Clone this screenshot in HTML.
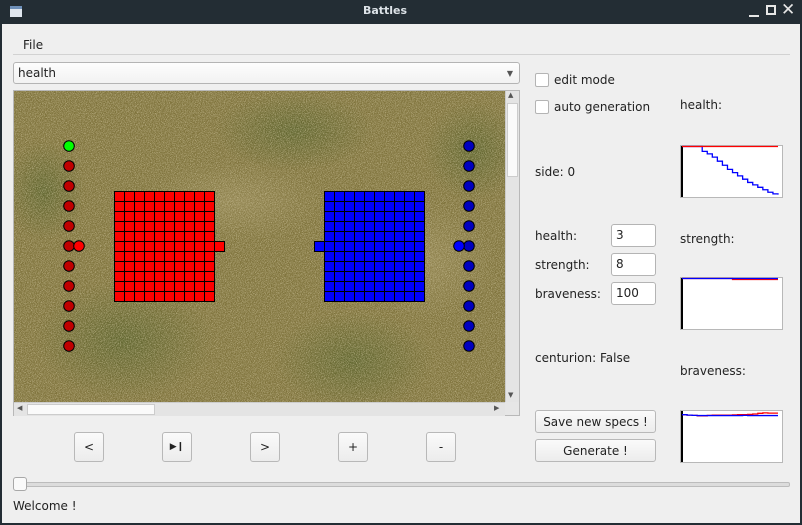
<!DOCTYPE html>
<html><head><meta charset="utf-8">
<style>
*{box-sizing:border-box;margin:0;padding:0}
body{width:802px;height:525px;overflow:hidden;background:#232d34;font-family:"DejaVu Sans","Liberation Sans",sans-serif;font-size:12px;color:#222;position:relative}
.abs{position:absolute}
#win{left:2px;top:24px;width:798px;height:499px;background:#efefef}
.btn{position:absolute;border:1px solid #b8b8b8;border-radius:3px;background:linear-gradient(#fafafa,#ececec);text-align:center;color:#222}
.inp{position:absolute;border:1px solid #b4b4b4;border-radius:3px;background:#fff;padding-left:4px;line-height:21px}
.cb{position:absolute;width:14px;height:14px;border:1px solid #b4b4b4;border-radius:2px;background:#fff}
.lbl{position:absolute;white-space:nowrap}
</style></head><body>
<div class="abs" style="left:0;top:0;width:802px;height:24px;background:#232d34">
 <div class="abs" style="left:10px;top:6px;width:12px;height:11px;background:#dfe6ee;border-top:3px solid #6d8fb8"></div>
 <div class="abs" style="left:0;width:770px;top:4px;text-align:center;color:#dde3e8;font-weight:bold;font-size:11px">Battles</div>
 <div class="abs" style="left:749px;top:15px;width:10px;height:2px;background:#e6e6e6"></div>
 <div class="abs" style="left:766px;top:5px;width:10px;height:10px;border:2px solid #e6e6e6"></div>
 <div class="abs" style="left:781px;top:0px;color:#e6e6e6;font-size:17px;font-weight:bold">✕</div>
</div>
<div id="win" class="abs"></div>
<div class="lbl" style="left:23px;top:38px">File</div>
<div class="abs" style="left:13px;top:54px;width:777px;height:1px;background:#d2d2d2"></div>
<div class="inp" style="left:13px;top:62px;width:507px;height:22px;background:linear-gradient(#fdfdfd,#f2f2f2)">health<span style="position:absolute;right:6px;top:0;font-size:8px;color:#555">▼</span></div>

<div class="abs" style="left:13px;top:90px;width:507px;height:326px;border:1px solid #b8b8b8;background:#e6e6e6">
<svg id="field" width="491" height="311" style="position:absolute;left:0;top:0">
<defs>
<radialGradient id="g1"><stop offset="0" stop-color="#56612a" stop-opacity=".75"/><stop offset="1" stop-color="#56612a" stop-opacity="0"/></radialGradient>
<radialGradient id="g2"><stop offset="0" stop-color="#a89a6a" stop-opacity=".45"/><stop offset="1" stop-color="#a89a6a" stop-opacity="0"/></radialGradient>
<filter id="noise"><feTurbulence type="fractalNoise" baseFrequency="1.2" numOctaves="2" seed="3"/><feColorMatrix values="0 0 0 0 0.75  0 0 0 0 0.68  0 0 0 0 0.45  1.6 0 0 0 -0.65"/></filter>
</defs>
<rect width="491" height="311" fill="#7f733c"/>
<ellipse cx="110" cy="250" rx="90" ry="60" fill="url(#g1)"/>
<ellipse cx="340" cy="270" rx="80" ry="50" fill="url(#g1)"/>
<ellipse cx="280" cy="40" rx="80" ry="40" fill="url(#g1)"/>
<ellipse cx="460" cy="60" rx="50" ry="50" fill="url(#g1)"/>
<ellipse cx="30" cy="100" rx="40" ry="50" fill="url(#g1)"/>
<ellipse cx="220" cy="110" rx="90" ry="40" fill="url(#g2)"/>
<ellipse cx="410" cy="170" rx="70" ry="60" fill="url(#g2)"/>
<rect width="491" height="311" filter="url(#noise)"/>
<g id="units"></g>
</svg>
<div class="abs" style="left:491px;top:0;width:14px;height:311px;background:#e4e4e4;border-left:1px solid #ccc">
 <div class="abs" style="left:1px;top:12px;width:11px;height:74px;background:#fafafa;border:1px solid #ccc"></div>
 <div class="abs" style="left:2px;top:0;font-size:7px;color:#555">▲</div><div class="abs" style="left:2px;top:300px;font-size:7px;color:#555">▼</div>
</div>
<div class="abs" style="left:0;top:311px;width:491px;height:14px;background:#e4e4e4;border-top:1px solid #ccc">
 <div class="abs" style="left:13px;top:1px;width:128px;height:11px;background:#fafafa;border:1px solid #ccc"></div>
 <div class="abs" style="left:3px;top:1px;font-size:7px;color:#555">◀</div><div class="abs" style="left:480px;top:1px;font-size:7px;color:#555">▶</div>
</div>
</div>

<div class="btn" style="left:74px;top:432px;width:30px;height:30px;line-height:28px">&lt;</div>
<div class="btn" style="left:162px;top:432px;width:30px;height:30px;line-height:28px;font-size:9px;font-weight:bold">▶❙</div>
<div class="btn" style="left:250px;top:432px;width:30px;height:30px;line-height:28px">&gt;</div>
<div class="btn" style="left:338px;top:432px;width:30px;height:30px;line-height:28px">+</div>
<div class="btn" style="left:426px;top:432px;width:30px;height:30px;line-height:28px">-</div>

<div class="abs" style="left:13px;top:482px;width:777px;height:5px;border:1px solid #bcbcbc;border-radius:2px;background:#dcdcdc"></div>
<div class="abs" style="left:13px;top:477px;width:14px;height:14px;border:1px solid #a8a8a8;border-radius:3px;background:#fafafa"></div>
<div class="lbl" style="left:13px;top:499px">Welcome !</div>

<div class="cb" style="left:535px;top:73px"></div>
<div class="lbl" style="left:554px;top:73px">edit mode</div>
<div class="cb" style="left:535px;top:100px"></div>
<div class="lbl" style="left:554px;top:100px">auto generation</div>
<div class="lbl" style="left:535px;top:165px">side: 0</div>
<div class="lbl" style="left:535px;top:229px">health:</div>
<div class="inp" style="left:611px;top:224px;width:45px;height:23px">3</div>
<div class="lbl" style="left:535px;top:258px">strength:</div>
<div class="inp" style="left:611px;top:253px;width:45px;height:23px">8</div>
<div class="lbl" style="left:535px;top:287px">braveness:</div>
<div class="inp" style="left:611px;top:282px;width:45px;height:23px">100</div>
<div class="lbl" style="left:535px;top:351px">centurion: False</div>
<div class="btn" style="left:535px;top:410px;width:121px;height:23px;line-height:22px">Save new specs !</div>
<div class="btn" style="left:535px;top:439px;width:121px;height:23px;line-height:22px">Generate !</div>

<div class="lbl" style="left:680px;top:98px">health:</div>
<div class="lbl" style="left:680px;top:232px">strength:</div>
<div class="lbl" style="left:680px;top:364px">braveness:</div>
<svg class="abs" id="charts" style="left:0;top:0" width="802" height="525"></svg>

<script>
// battlefield data
const gridCols = 10, gridRows = 11;
const redBlockOrigin = [100, 100];
const blueBlockOrigin = [310, 100];
const redSquareExtra = [200, 150];
const blueSquareExtra = [300, 150];
const archerRows = [55,75,95,115,135,155,175,195,215,235,255];
const redArcherX = 55, blueArcherX = 455;
const redExtraArcher = [65, 155], blueExtraArcher = [445, 155];

const NS = 'http://www.w3.org/2000/svg';
const units = document.getElementById('units');
function mk(t, a){const e=document.createElementNS(NS,t);for(const k in a)e.setAttribute(k,a[k]);units.appendChild(e);return e;}
function block(o, fill, name){
  for(let r=0;r<gridRows;r++)for(let c=0;c<gridCols;c++){
    const e=mk('rect',{x:o[0]+c*10+.5,y:o[1]+r*10+.5,width:10,height:10,fill:fill,stroke:'#000','stroke-width':1});
    
    
  }
}
block(redBlockOrigin,'#ff0000','red-infantry');
block(blueBlockOrigin,'#0000ff','blue-infantry');
let s=mk('rect',{x:redSquareExtra[0]+.5,y:redSquareExtra[1]+.5,width:10,height:10,fill:'#ff0000',stroke:'#000'});


s=mk('rect',{x:blueSquareExtra[0]+.5,y:blueSquareExtra[1]+.5,width:10,height:10,fill:'#0000ff',stroke:'#000'});


archerRows.forEach((y,i)=>{
  let c=mk('circle',{cx:redArcherX,cy:y,r:5.3,fill:i===0?'#00ff00':'#c00000',stroke:'#000'});
  
  
  c=mk('circle',{cx:blueArcherX,cy:y,r:5.3,fill:'#0000c0',stroke:'#000'});
  
  
});
let c=mk('circle',{cx:redExtraArcher[0],cy:redExtraArcher[1],r:5.3,fill:'#ff0000',stroke:'#000'});


c=mk('circle',{cx:blueExtraArcher[0],cy:blueExtraArcher[1],r:5.3,fill:'#0000ff',stroke:'#000'});


</script>
<script>
// chart data (20 time samples)
const healthRed  = [3,3,3,3,3,3,3,3,3,3,3,3,3,3,3,3,3,3,3,3];
const healthBlue = [3,3,3,3,2.7,2.55,2.35,2.1,1.85,1.6,1.4,1.2,1.0,0.8,0.65,0.5,0.35,0.2,0.1,0.05];
const strengthRed  = [8,8,8,8,8,8,8,8,8,8,7.85,7.85,7.85,7.85,7.85,7.85,7.85,7.85,7.85,7.85];
const strengthBlue = [8,8,8,8,8,8,8,8,8,8,8,8,8,8,8,8,8,8,8,8];
const bravRed  = [101,100,99.5,98.5,98.5,99.5,100,100,100,100,100.5,101,101,101.5,102.5,104,105,104.5,104.5,104.5];
const bravBlue = [101,100,99.5,99,99,99,99,99,99,99,99,99,99.5,99,99,99,99,99,99,99];
const healthMax = 3, strengthMax = 8, bravMax = 108;

const svg = document.getElementById('charts');
function el(t,a){const e=document.createElementNS(NS,t);for(const k in a)e.setAttribute(k,a[k]);svg.appendChild(e);return e;}
function chart(top, max, red, blue, name, blueFirst){
  const L=680, W=102, H=52;
  const bg=el('rect',{x:L+.5,y:top+.5,width:W,height:H,fill:'#fff',stroke:'#b8b8b8'});
  
  
  const ax=el('line',{x1:L+2,y1:top+1,x2:L+2,y2:top+H,stroke:'#000','stroke-width':2});
  
  
  const xs=i=>L+2+i*(W-6)/(red.length-1);
  const ys=v=>top+1.5+(1-v/max)*(H-3);
  const order = blueFirst ? [[blue,'#0000ff',1],[red,'#ff0000',0]] : [[red,'#ff0000',0],[blue,'#0000ff',1]];
  order.forEach(([d,col,k])=>{
    let p='M'+xs(0)+','+ys(d[0]);
    for(let i=1;i<d.length;i++) p+=' L'+xs(i)+','+ys(d[i-1])+' L'+xs(i)+','+ys(d[i]);
    const pl=el('path',{d:p,fill:'none',stroke:col,'stroke-width':1.3});
    
    
  });
}
chart(145, healthMax, healthRed, healthBlue, 'health', true);
chart(277, strengthMax, strengthRed, strengthBlue, 'strength', false);
chart(410, bravMax, bravRed, bravBlue, 'braveness', false);
</script>
</body></html>
